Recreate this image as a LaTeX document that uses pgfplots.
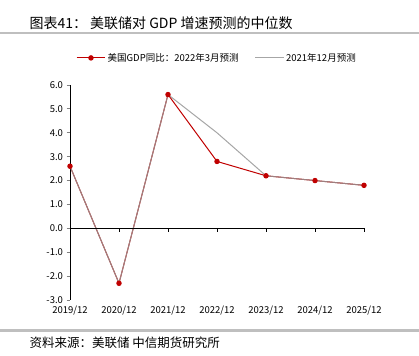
\documentclass[border=0pt]{standalone}
\usepackage{fontspec}
\setmainfont{Noto Sans CJK SC}
\usepackage{pgfplots}
\pgfplotsset{compat=1.18}
\definecolor{cred}{HTML}{C00000}
\definecolor{cgray}{HTML}{969696}
\definecolor{cline}{HTML}{BFBFBF}
\begin{document}
\begin{tikzpicture}
\path[use as bounding box] (0pt,0pt) rectangle (419pt,355pt);
\node[anchor=west,font=\fontsize{14}{16}\selectfont] at (26pt,332pt) {图表41：\ 美联储对 GDP 增速预测的中位数};
\fill[cline] (0pt,320.5pt) rectangle (419pt,323pt);
\fill[cline] (0pt,23pt) rectangle (419pt,25.5pt);
\node[anchor=west,font=\fontsize{12.5}{14}\selectfont] at (26pt,12pt) {资料来源：美联储\ 中信期货研究所};
\begin{axis}[
  at={(70pt,55pt)}, anchor=south west,
  scale only axis, width=294pt, height=215pt,
  xmin=0, xmax=6, ymin=-3, ymax=6,
  axis x line*=bottom,
  x axis line style={draw=none},
  axis y line*=left,
  y axis line style={line width=0.8pt},
  xtick={0,...,6},
  xticklabels={2019/12,2020/12,2021/12,2022/12,2023/12,2024/12,2025/12},
  xtick style={draw=none},
  xticklabel style={font=\fontsize{9.5}{11}\selectfont, yshift=1pt},
  ytick={-3,-2,...,6},
  yticklabel style={font=\fontsize{9.5}{11}\selectfont, /pgf/number format/.cd, fixed, fixed zerofill, precision=1, assume math mode=true},
  tick align=outside,
  major tick length=3.5pt,
  ytick style={line width=0.8pt},
  clip=false,
  legend columns=2,
  legend image code/.code={\draw[mark repeat=2,mark phase=2,#1] plot coordinates {(0cm,0cm) (0.5cm,0cm) (1cm,0cm)};},
  legend style={at={(0.5,1.126)}, anchor=center, draw=none, fill=none,
    font=\fontsize{9.5}{11}\selectfont,
    /tikz/every even column/.append style={column sep=14pt}},
  legend cell align=left,
]
\addplot[cred, line width=1pt, mark=*, mark size=2.2pt, mark options={fill=cred,draw=cred}] coordinates {
(0,2.6) (1,-2.3) (2,5.6) (3,2.8) (4,2.2) (5,2.0) (6,1.8)};
\addlegendentry{美国GDP同比：2022年3月预测}
\addplot[cgray, line width=1pt, opacity=0.85, mark=none] coordinates {
(0,2.6) (1,-2.3) (2,5.6) (3,4.0) (4,2.2) (5,2.0) (6,1.8)};
\addlegendentry{2021年12月预测}
\draw[line width=0.8pt] (axis cs:0,0) -- (axis cs:6,0);
\pgfplotsinvokeforeach{1,...,6}{\draw[line width=0.8pt] (axis cs:#1,0) -- ++(0pt,-3.5pt);}
\end{axis}
\end{tikzpicture}
\end{document}
